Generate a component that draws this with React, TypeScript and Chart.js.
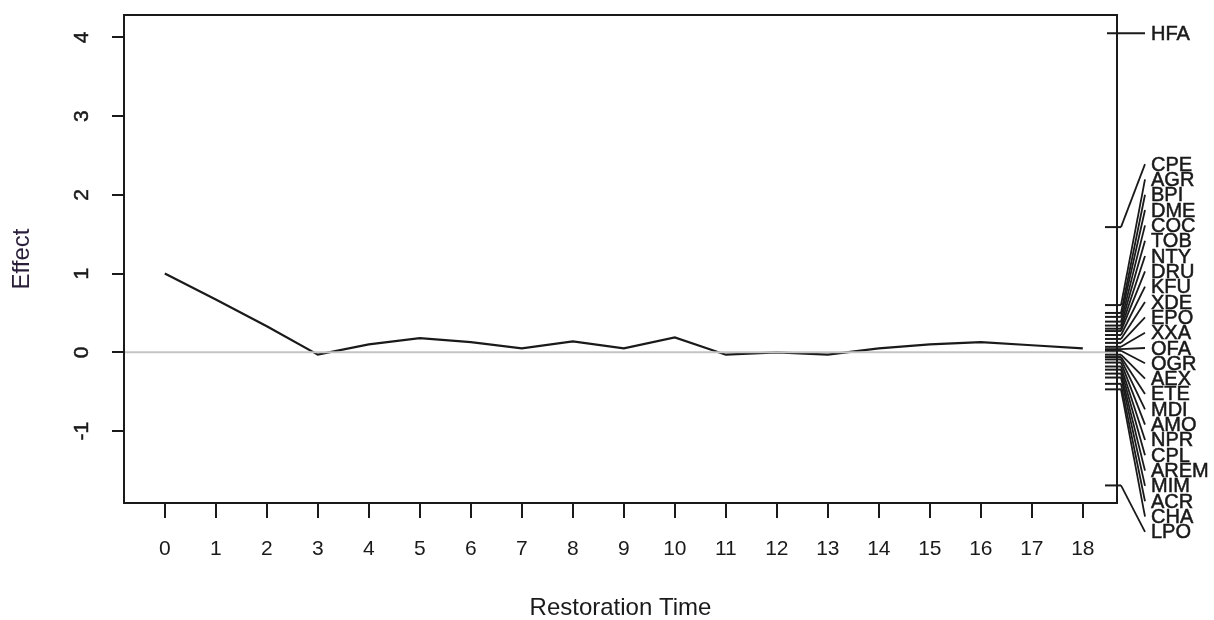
import React, { useEffect, useRef } from "react";
import { Chart, registerables } from "chart.js";

Chart.register(...registerables);

// ---- data ----
const restorationTime = [0, 1, 2, 3, 4, 5, 6, 7, 8, 9, 10, 11, 12, 13, 14, 15, 16, 17, 18];
const effectValues = [1.0, 0.67, 0.33, -0.03, 0.1, 0.18, 0.13, 0.05, 0.14, 0.05, 0.19, -0.03, 0.0, -0.03, 0.05, 0.1, 0.13, 0.09, 0.05];
const xTickValues = [0, 1, 2, 3, 4, 5, 6, 7, 8, 9, 10, 11, 12, 13, 14, 15, 16, 17, 18];
const yTickValues = [-1, 0, 1, 2, 3, 4];
const topLabel = "HFA";
const topLabelValue = 4.05;
const sideLabels = ["CPE", "AGR", "BPI", "DME", "COC", "TOB", "NTY", "DRU", "KFU", "XDE", "EPO", "XXA", "OFA", "OGR", "AEX", "ETE", "MDI", "AMO", "NPR", "CPL", "AREM", "MIM", "ACR", "CHA", "LPO"];
const sideValues = [1.59, 0.6, 0.5, 0.45, 0.39, 0.34, 0.3, 0.27, 0.22, 0.17, 0.12, 0.07, 0.04, 0.02, -0.03, -0.06, -0.09, -0.13, -0.18, -0.22, -0.27, -0.32, -0.4, -0.47, -1.69];
const labelSpreadTop = 2.39;
const labelSpreadBottom = -2.28;

const FONT = '"Liberation Sans", Arial, sans-serif';
const INK = "#1a1a1a";

function heavyText(ctx: any, text: string, x: number, y: number) {
  ctx.fillText(text, x, y);
  ctx.strokeText(text, x, y);
}

const overlayPlugin = {
  id: "overlay",
  afterDatasetsDraw(chart: any) {
    const { ctx, chartArea } = chart;
    const ys = chart.scales.y;
    const { left, right, top, bottom } = chartArea;
    ctx.save();
    // zero reference line
    ctx.strokeStyle = "#c4c4c4";
    ctx.lineWidth = 2;
    ctx.beginPath();
    const y0 = ys.getPixelForValue(0);
    ctx.moveTo(left, y0);
    ctx.lineTo(right, y0);
    ctx.stroke();
    // box
    ctx.strokeStyle = INK;
    ctx.lineWidth = 2;
    ctx.strokeRect(left, top, right - left, bottom - top);
    // y tick labels (rotated, R style)
    ctx.fillStyle = INK;
    ctx.font = `21px ${FONT}`;
    ctx.textAlign = "center";
    ctx.textBaseline = "middle";
    ctx.lineWidth = 0.5;
    yTickValues.forEach((v) => {
      const py = ys.getPixelForValue(v);
      ctx.save();
      ctx.translate(82, py);
      ctx.rotate(-Math.PI / 2);
      heavyText(ctx, String(v), 0, 0);
      ctx.restore();
    });
    // right side ticks, leaders and labels
    ctx.font = `20px ${FONT}`;
    ctx.textAlign = "left";
    ctx.textBaseline = "middle";
    const hy = ys.getPixelForValue(topLabelValue);
    ctx.lineWidth = 2;
    ctx.beginPath();
    ctx.moveTo(right - 10, hy);
    ctx.lineTo(right + 28, hy);
    ctx.stroke();
    ctx.lineWidth = 0.5;
    heavyText(ctx, topLabel, right + 34, hy + 1);
    const n = sideLabels.length;
    sideLabels.forEach((lab, i) => {
      const ty = ys.getPixelForValue(sideValues[i]);
      const lv = labelSpreadTop + (labelSpreadBottom - labelSpreadTop) * (i / (n - 1));
      const ly = ys.getPixelForValue(lv);
      ctx.lineWidth = 2;
      ctx.beginPath();
      ctx.moveTo(right - 12, ty);
      ctx.lineTo(right + 4, ty);
      ctx.stroke();
      ctx.lineWidth = 1.8;
      ctx.beginPath();
      ctx.moveTo(right + 4, ty);
      ctx.lineTo(right + 28, ly);
      ctx.stroke();
      ctx.lineWidth = 0.5;
      heavyText(ctx, lab, right + 34, ly + 1);
    });
    ctx.restore();
  },
};

export default function App() {
  const ref = useRef<HTMLCanvasElement | null>(null);
  useEffect(() => {
    document.body.style.margin = "0";
    document.body.style.background = "#ffffff";
    const canvas = ref.current;
    if (!canvas) return;
    const chart = new Chart(canvas, {
      type: "line",
      data: {
        datasets: [
          {
            data: restorationTime.map((x, i) => ({ x, y: effectValues[i] })),
            borderColor: INK,
            borderWidth: 2.2,
            pointRadius: 0,
            tension: 0,
            fill: false,
          },
        ],
      },
      options: {
        animation: false,
        responsive: false,
        devicePixelRatio: 1,
        layout: { padding: { top: 13, right: 97, bottom: 0, left: 0 } },
        plugins: { legend: { display: false }, tooltip: { enabled: false } },
        scales: {
          x: {
            type: "linear",
            min: -0.8,
            max: 18.67,
            afterBuildTicks: (s: any) => {
              s.ticks = xTickValues.map((v) => ({ value: v }));
            },
            afterFit: (s: any) => {
              s.height = 117;
            },
            border: { display: false },
            grid: { display: true, drawOnChartArea: false, drawTicks: true, tickLength: 15, color: INK, lineWidth: 2 },
            ticks: { color: INK, font: { family: FONT, size: 21 }, padding: 19, maxRotation: 0, autoSkip: false, callback: (v: any) => String(v) },
            title: { display: true, text: "Restoration Time", color: INK, font: { family: FONT, size: 24, lineHeight: 1 }, padding: { top: 0, bottom: 0 } },
          },
          y: {
            type: "linear",
            min: -1.913,
            max: 4.283,
            afterBuildTicks: (s: any) => {
              s.ticks = yTickValues.map((v) => ({ value: v }));
            },
            afterFit: (s: any) => {
              s.width = 124;
            },
            border: { display: false },
            grid: { display: true, drawOnChartArea: false, drawTicks: true, tickLength: 12, color: INK, lineWidth: 2 },
            ticks: { color: "rgba(0,0,0,0)", font: { family: FONT, size: 20 } },
            title: { display: true, text: "Effect", color: "#2a1f3a", font: { family: FONT, size: 24, lineHeight: 1 }, padding: { top: 10, bottom: 0 } },
          },
        },
      },
      plugins: [overlayPlugin],
    });
    return () => chart.destroy();
  }, []);
  return (
    <div style={{ position: "absolute", left: 0, top: 0, width: 1214, height: 620, background: "#fff" }}>
      <canvas ref={ref} width={1214} height={620} style={{ display: "block" }} />
    </div>
  );
}
